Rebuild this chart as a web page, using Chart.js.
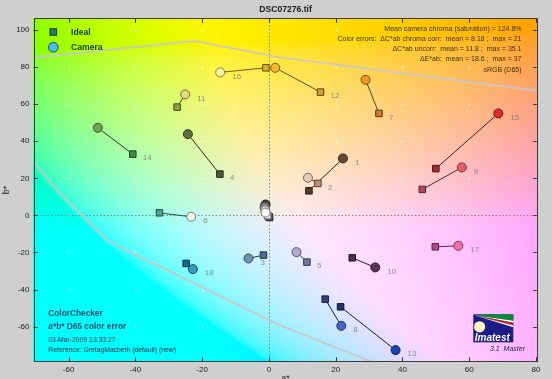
<!DOCTYPE html>
<html><head><meta charset="utf-8">
<script src="https://cdn.jsdelivr.net/npm/chart.js@4/dist/chart.umd.min.js"></script>
<style>html,body{margin:0;padding:0;background:#cfcfcf;overflow:hidden}</style>
</head><body>
<canvas id="c" width="552" height="379"></canvas>
<script>
const chartTitle = 'DSC07276.tif';
const xTickValues = [-60, -40, -20, 0, 20, 40, 60, 80];
const yTickValues = [-60, -40, -20, 0, 20, 40, 60, 80, 100];

const patchLabels = ['1','2','3','4','5','6','7','8','9','10','11','12','13','14','15','16','17','18'];
const idealA  = [11.99, 14.68, -1.62, -14.68, 11.39, -32.78, 32.96, 16.87, 45.94, 24.96, -27.48, 15.46, 21.46, -40.76, 49.99, -0.90, 49.84, -24.78];
const idealB  = [13.27, 17.26, -21.41, 22.28, -25.19, 1.40, 55.02, -45.15, 14.02, -22.87, 58.41, 66.50, -49.30, 33.06, 25.24, 79.61, -16.94, -25.89];
const cameraA = [22.18, 11.69, -6.11, -24.27, 8.27, -23.28, 28.95, 21.67, 57.78, 31.85, -25.08, 1.89, 37.94, -51.24, 68.71, -14.59, 56.73, -22.77];
const cameraB = [30.74, 20.28, -23.19, 43.85, -19.80, -0.76, 73.14, -59.55, 25.89, -28.05, 65.26, 79.61, -72.65, 47.25, 55.02, 77.13, -16.40, -28.96];
const labelAnchor = ['camera','ideal','camera','ideal','ideal','camera','ideal','camera','camera','camera','camera','ideal','camera','ideal','camera','camera','camera','camera'];

const grayLabels   = ['24','23','22','21','20','19'];
const grayIdealA   = [0.2, 0.1, 0.0, -0.1, -0.3, -0.4];
const grayIdealB   = [-1.1, -0.9, -0.7, -0.5, -0.3, -0.1];
const grayCameraA  = [-1.0, -1.1, -1.3, -1.2, -1.1, -1.0];
const grayCameraB  = [5.9, 5.3, 4.6, 3.7, 2.7, 1.5];

const gamutUpperA = [-70.5, -22.1, 2.2, 80.5];
const gamutUpperB = [85.2, 94.0, 85.5, 67.2];
const gamutLowerA = [-70.5, -63.5, -48.5, -38.6, 2.2, 9.4, 32.3];
const gamutLowerB = [28.9, 13.6, -13.3, -22.3, -58.3, -63.6, -80];

const idealColors  = ['#5e3a2c','#b8907e','#4e6a8c','#4c5e30','#747a9e','#4fa294','#cf7a34','#34427e','#b4485a','#552c52','#8ea040','#d49c36','#22306c','#3e8a48','#a42a34','#d8b41c','#b04a8a','#12708e'];
const cameraColors = ['#6e4634','#e6c8b8','#6c90b2','#627040','#b4aac8','#eef2ee','#f09624','#4664c8','#e8606e','#5c305c','#dedc74','#f4b42c','#1c42b2','#6ea458','#e02c2c','#fff4a0','#f070a6','#3a9ac0'];
const grayIdealColors  = ['#333333','#555555','#777777','#999999','#c0c0c0','#eeeeee'];
const grayCameraColors = ['#3c3c3c','#646464','#8c8c8c','#b4b4b4','#dcdcdc','#fafafa'];

const infoLines = [
  'Mean camera chroma (saturation) = 124.8%',
  'Color errors:  \u0394C*ab chroma corr:  mean = 8.18 ;  max = 21',
  '\u0394C*ab uncorr:  mean = 11.8 ;  max = 35.1',
  '\u0394E*ab:  mean = 18.6 ;  max = 37',
  'sRGB (D65)'
];
const noteBold = ['ColorChecker', 'a*b* D65 color error'];
const noteLines = ['03-Mar-2009 13:33:27', 'Reference: GretagMacbeth (default) (new)'];
const legendLabels = ['Ideal', 'Camera'];

const FONT = '"Liberation Sans", Arial, Helvetica, sans-serif';
const bgLightness = 94;

function shade(hex, f) {
  const n = parseInt(hex.slice(1), 16);
  const r = Math.round(((n >> 16) & 255) * f), g = Math.round(((n >> 8) & 255) * f), b = Math.round((n & 255) * f);
  return 'rgb(' + r + ',' + g + ',' + b + ')';
}
function labToRgb(L, a, b) {
  const fy = (L + 16) / 116, fx = fy + a / 500, fz = fy - b / 200;
  const inv = t => t > 6/29 ? t*t*t : 3*(6/29)*(6/29)*(t - 4/29);
  const X = 0.95047 * inv(fx), Y = inv(fy), Z = 1.08883 * inv(fz);
  let r = 3.2406*X - 1.5372*Y - 0.4986*Z;
  let g = -0.9689*X + 1.8758*Y + 0.0415*Z;
  let bl = 0.0557*X - 0.2040*Y + 1.0570*Z;
  const gam = c => { c = Math.min(1, Math.max(0, c)); return c <= 0.0031308 ? 12.92*c : 1.055*Math.pow(c, 1/2.4) - 0.055; };
  return [gam(r)*255, gam(g)*255, gam(bl)*255];
}

const allIdealA = idealA.concat(grayIdealA), allIdealB = idealB.concat(grayIdealB);
const allCameraA = cameraA.concat(grayCameraA), allCameraB = cameraB.concat(grayCameraB);
const allIdealColors = idealColors.concat(grayIdealColors);
const allCameraColors = cameraColors.concat(grayCameraColors);

const datasets = [];
datasets.push({ label: 'camera', data: allCameraA.map((a, i) => ({x: a, y: allCameraB[i]})),
  pointStyle: 'circle', pointRadius: 4.5, backgroundColor: allCameraColors,
  borderColor: allCameraColors.map(c => shade(c, 0.5)), borderWidth: 1, showLine: false, order: 0 });
datasets.push({ label: 'ideal', data: allIdealA.map((a, i) => ({x: a, y: allIdealB[i]})),
  pointStyle: 'rect', pointRadius: 4.6, backgroundColor: allIdealColors,
  borderColor: allIdealColors.map(c => shade(c, 0.45)), borderWidth: 1, showLine: false, order: 1 });
allIdealA.forEach((a, i) => {
  datasets.push({ label: 'link', data: [{x: a, y: allIdealB[i]}, {x: allCameraA[i], y: allCameraB[i]}],
    showLine: true, pointRadius: 0, borderWidth: 1, borderColor: shade(allIdealColors[i], 0.5), order: 2 });
});
datasets.push({ label: 'gamut', data: gamutUpperA.map((a, i) => ({x: a, y: gamutUpperB[i]})),
  showLine: true, pointRadius: 0, borderWidth: 2, borderColor: 'rgba(200,200,200,0.9)', order: 3 });
datasets.push({ label: 'gamut', data: gamutLowerA.map((a, i) => ({x: a, y: gamutLowerB[i]})),
  showLine: true, pointRadius: 0, borderWidth: 2, borderColor: 'rgba(200,200,200,0.9)', order: 3 });

const bgPlugin = {
  id: 'labbg',
  beforeDraw(chart) {
    const {ctx, chartArea, scales} = chart;
    ctx.save();
    ctx.fillStyle = '#cfcfcf';
    ctx.fillRect(0, 0, chart.width, chart.height);
    const L0 = Math.floor(chartArea.left), T0 = Math.floor(chartArea.top);
    const w = Math.ceil(chartArea.right) - L0, h = Math.ceil(chartArea.bottom) - T0;
    const off = document.createElement('canvas'); off.width = w; off.height = h;
    const octx = off.getContext('2d');
    const img = octx.createImageData(w, h);
    for (let py = 0; py < h; py++) {
      const bv = scales.y.getValueForPixel(T0 + py + 0.5);
      for (let px = 0; px < w; px++) {
        const av = scales.x.getValueForPixel(L0 + px + 0.5);
        const c = labToRgb(bgLightness, av, bv);
        const k = (py * w + px) * 4;
        img.data[k] = c[0]; img.data[k+1] = c[1]; img.data[k+2] = c[2]; img.data[k+3] = 255;
      }
    }
    octx.putImageData(img, 0, 0);
    ctx.drawImage(off, L0, T0);
    ctx.restore();
  },
  beforeDatasetsDraw(chart) {
    const {ctx, chartArea: ca, scales: {x, y}} = chart;
    ctx.save();
    ctx.strokeStyle = 'rgba(255,255,255,0.45)'; ctx.lineWidth = 1;
    xTickValues.forEach(xv => yTickValues.forEach(yv => {
      const px = Math.round(x.getPixelForValue(xv)) + 0.5, py = Math.round(y.getPixelForValue(yv)) + 0.5;
      ctx.beginPath(); ctx.moveTo(px - 1.5, py); ctx.lineTo(px + 1.5, py); ctx.moveTo(px, py - 1.5); ctx.lineTo(px, py + 1.5); ctx.stroke();
    }));
    ctx.strokeStyle = 'rgba(120,120,120,0.85)'; ctx.setLineDash([1.5, 2]);
    const x0 = Math.round(x.getPixelForValue(0)) + 0.5, y0 = Math.round(y.getPixelForValue(0)) + 0.5;
    ctx.beginPath(); ctx.moveTo(x0, ca.top); ctx.lineTo(x0, ca.bottom); ctx.moveTo(ca.left, y0); ctx.lineTo(ca.right, y0); ctx.stroke();
    ctx.restore();
  },
  afterDatasetsDraw(chart) {
    const {ctx, chartArea: ca, scales: {x, y}} = chart;
    ctx.save();
    // patch labels
    const camMeta = chart.getDatasetMeta(0), idMeta = chart.getDatasetMeta(1);
    ctx.font = '8px ' + FONT; ctx.fillStyle = 'rgba(110,110,110,0.75)'; ctx.textBaseline = 'middle'; ctx.textAlign = 'left';
    patchLabels.forEach((lab, i) => {
      const p = labelAnchor[i] === 'camera' ? camMeta.data[i] : idMeta.data[i];
      const dx = labelAnchor[i] === 'camera' ? 12 : 10;
      ctx.fillText(lab, p.x + dx, p.y + 4);
    });
    // border & inward ticks
    ctx.strokeStyle = '#3a3a3a'; ctx.lineWidth = 1;
    ctx.strokeRect(Math.round(ca.left) + 0.5, Math.round(ca.top) + 0.5, Math.round(ca.right) - Math.round(ca.left) - 1, Math.round(ca.bottom) - Math.round(ca.top) - 1);
    ctx.beginPath();
    xTickValues.forEach(v => { const px = Math.round(x.getPixelForValue(v)) + 0.5;
      ctx.moveTo(px, ca.bottom); ctx.lineTo(px, ca.bottom - 4.5); ctx.moveTo(px, ca.top); ctx.lineTo(px, ca.top + 4.5); });
    yTickValues.forEach(v => { const py = Math.round(y.getPixelForValue(v)) + 0.5;
      ctx.moveTo(ca.left, py); ctx.lineTo(ca.left + 4.5, py); ctx.moveTo(ca.right, py); ctx.lineTo(ca.right - 4.5, py); });
    ctx.stroke();
    // legend
    ctx.fillStyle = '#2a8064'; ctx.strokeStyle = '#143a30';
    ctx.fillRect(50, 28.7, 6.6, 6.6); ctx.strokeRect(50, 28.7, 6.6, 6.6);
    ctx.beginPath(); ctx.arc(53.3, 47.3, 4.8, 0, Math.PI * 2); ctx.fillStyle = '#48c0ea'; ctx.fill(); ctx.strokeStyle = '#1c4a60'; ctx.stroke();
    ctx.font = 'bold 8.6px ' + FONT; ctx.fillStyle = '#183c18'; ctx.textBaseline = 'middle';
    ctx.fillText(legendLabels[0], 71, 32.3); ctx.fillText(legendLabels[1], 71, 47.6);
    // info text
    ctx.font = '7px ' + FONT; ctx.fillStyle = 'rgba(45,32,10,0.9)'; ctx.textAlign = 'right';
    const infoY = [29, 38.8, 48.7, 58.7, 70];
    infoLines.forEach((t, i) => ctx.fillText(t, 521.5, infoY[i]));
    // notes bottom-left
    ctx.textAlign = 'left';
    ctx.font = 'bold 8.3px ' + FONT; ctx.fillStyle = '#0e4c68';
    ctx.fillText(noteBold[0], 48.3, 313.5); ctx.fillText(noteBold[1], 48.3, 327.2);
    ctx.font = '6.8px ' + FONT; ctx.fillStyle = '#102c44';
    ctx.fillText(noteLines[0], 48.3, 340.4); ctx.fillText(noteLines[1], 48.3, 350.4);
    // logo
    const lx = 473.3, ly = 314.3, lw = 40, lh = 28;
    ctx.fillStyle = '#1c1c86'; ctx.fillRect(lx, ly, lw, lh);
    const ox = lx + 1, oy = ly + 1;
    const fan = (y1, y2, col, x1) => { ctx.beginPath(); ctx.moveTo(ox, oy); ctx.lineTo(x1 || lx + lw, ly + y1); ctx.lineTo(lx + lw, ly + y1); ctx.lineTo(lx + lw, ly + y2); ctx.closePath(); ctx.fillStyle = col; ctx.fill(); };
    fan(0, 6.5, '#0a8a34', lx + 12);
    fan(6.5, 8.5, '#ffffff');
    fan(8.5, 11.3, '#d02222');
    fan(11.3, 13, '#ffffff');
    ctx.beginPath(); ctx.arc(lx + 6.3, ly + 12.5, 5.6, 0, Math.PI * 2); ctx.fillStyle = '#fbf6c4'; ctx.fill();
    ctx.font = 'italic bold 10px ' + FONT; ctx.fillStyle = '#ffffff'; ctx.textBaseline = 'alphabetic';
    ctx.fillText('Imatest', lx + 1.5, ly + 26.5);
    ctx.font = 'italic 7px ' + FONT; ctx.fillStyle = '#202050'; ctx.textAlign = 'right'; ctx.textBaseline = 'middle';
    ctx.fillText('3.1  Master', 525, 349.5);
    // axis titles
    ctx.font = '9px ' + FONT; ctx.fillStyle = '#1a1a1a'; ctx.textAlign = 'center'; ctx.textBaseline = 'top';
    ctx.fillText('a*', (ca.left + ca.right) / 2, 374);
    ctx.save(); ctx.translate(7, (ca.top + ca.bottom) / 2); ctx.rotate(-Math.PI / 2);
    ctx.textBaseline = 'middle'; ctx.fillText('b*', 0, 0); ctx.restore();
    ctx.restore();
  }
};

new Chart(document.getElementById('c'), {
  type: 'scatter',
  data: { datasets },
  options: {
    responsive: false, animation: false, events: [],
    layout: { padding: { left: 0, right: 14.3, top: 0, bottom: 0 } },
    plugins: {
      legend: { display: false }, tooltip: { enabled: false },
      title: { display: true, text: chartTitle, fullSize: false, color: '#1a1a1a',
        font: { family: FONT, size: 8.6, weight: 'bold' }, padding: { top: 4.2, bottom: 3.8 } }
    },
    scales: {
      x: { type: 'linear', min: -70.5, max: 80.5,
        grid: { display: false, drawTicks: false }, border: { display: false },
        afterBuildTicks: s => { s.ticks = xTickValues.map(v => ({ value: v })); },
        afterFit: s => { s.height = 17.3; },
        ticks: { padding: 3, color: '#1a1a1a', font: { family: FONT, size: 8 }, maxRotation: 0, autoSkip: false } },
      y: { type: 'linear', min: -78.9, max: 106.3,
        grid: { display: false, drawTicks: false }, border: { display: false },
        afterBuildTicks: s => { s.ticks = yTickValues.map(v => ({ value: v })); },
        afterFit: s => { s.width = 33.5; },
        ticks: { padding: 4, color: '#1a1a1a', font: { family: FONT, size: 8 }, autoSkip: false } }
    }
  },
  plugins: [bgPlugin]
});
</script>
</body></html>
